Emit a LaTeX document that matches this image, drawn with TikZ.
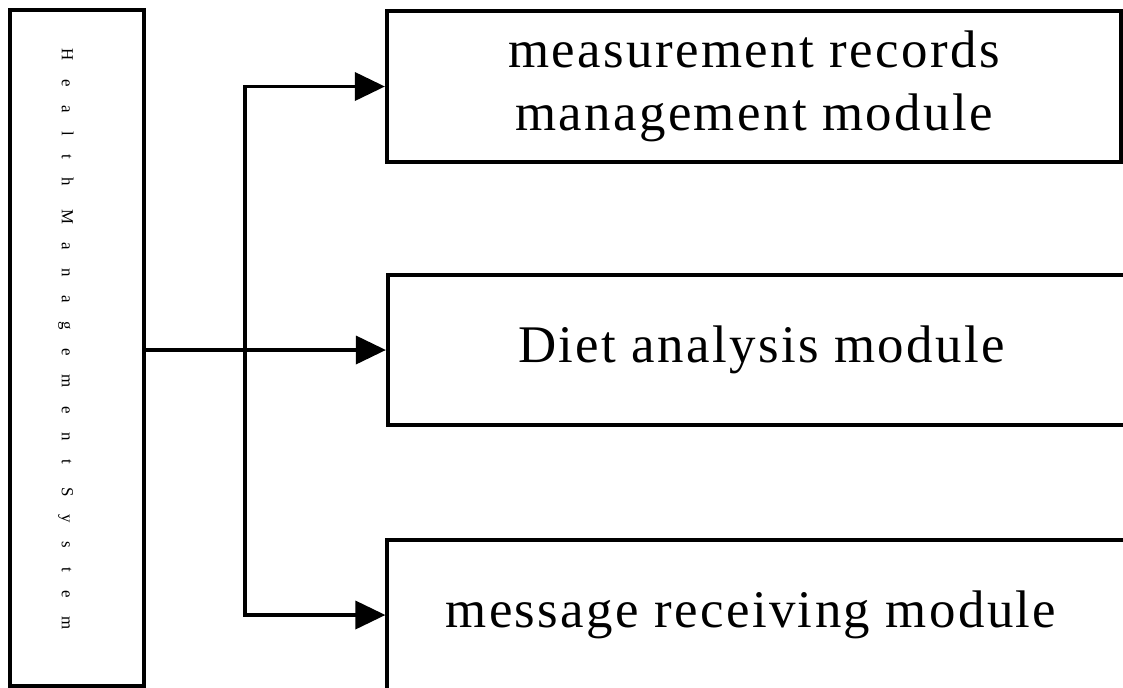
\documentclass[tikz,border=0pt]{standalone}
\usepackage{fontspec}
\setmainfont{Liberation Serif}
\usetikzlibrary{arrows.meta,positioning}
\newcommand{\modfont}{\fontsize{37.6}{45}\selectfont\addfontfeature{LetterSpace=4.5}}
\newcommand{\sysfont}{\fontsize{12}{14}\selectfont\addfontfeature{LetterSpace=110}}
\tikzset{
  sysbox/.style={draw,line width=0.1cm,inner sep=0pt,minimum width=3.3375cm,minimum height=16.8875cm},
  module/.style={draw,line width=0.1cm,inner sep=0pt,minimum height=3.75cm,align=center,font=\modfont},
  link/.style={line width=0.09cm},
  arr/.style={link,-{Triangle[length=0.75cm,width=0.7cm]}},
}
\begin{document}
\begin{tikzpicture}[x=0.025cm,y=-0.025cm,line join=miter]
  \useasboundingbox (0,0) rectangle (1123,687);
  % system box and its upright label
  \node[sysbox] (sys) at (77.25,348.25) {};
  \node[rotate=-90,font=\sysfont,inner sep=0pt] (systext) at (66,339) {Health Management System};
  % modules
  \node[module,minimum width=18.35cm] (meas) at (754,86.5) {measurement records\\management module};
  \node[module,minimum width=18.675cm] (diet) at (761.5,350) {Diet analysis module};
  \node[module,minimum width=18.675cm] (msg) at (761,615) {\hspace*{-0.5cm}message receiving module};
  % connectors
  \coordinate (fork) at (245,350);
  \draw[arr] (sys.east |- diet.west) -- (diet.west);
  \draw[arr] (fork) |- (meas.west);
  \draw[arr] (fork) |- (msg.west);
\end{tikzpicture}
\end{document}
